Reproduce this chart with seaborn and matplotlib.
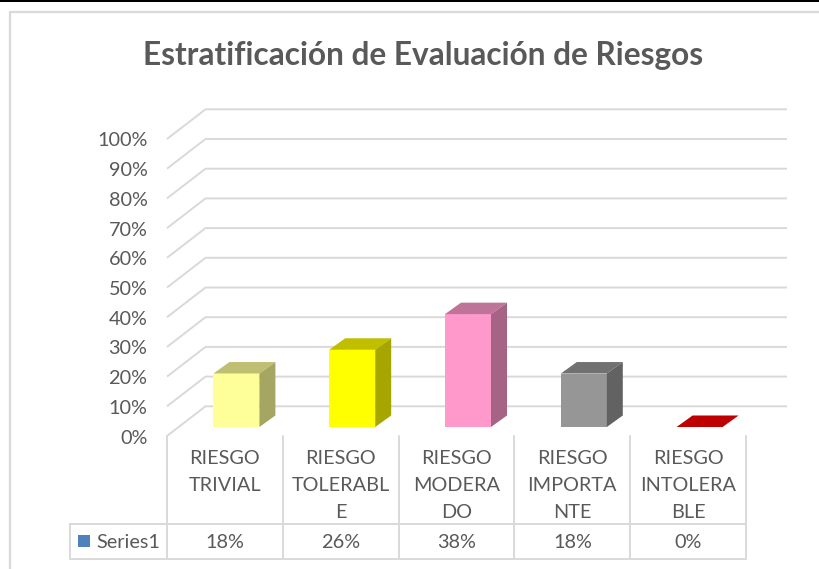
import matplotlib
matplotlib.use("Agg")
import matplotlib.pyplot as plt
from matplotlib.colors import to_rgb
from matplotlib.patches import Polygon
import pandas as pd
import seaborn as sns

# Data
categories = ["RIESGO\nTRIVIAL", "RIESGO\nTOLERABL\nE", "RIESGO\nMODERA\nDO", "RIESGO\nIMPORTA\nNTE", "RIESGO\nINTOLERA\nBLE"]
values = [18, 26, 38, 18, 0]
value_labels = ["18%", "26%", "38%", "18%", "0%"]
colors = ["#FFFF99", "#FFFF00", "#FF99CC", "#969696", "#FF0000"]
y_ticks = [0, 10, 20, 30, 40, 50, 60, 70, 80, 90, 100]
series_name = "Series1"
title = "Estratificación de Evaluación de Riesgos"

sns.set_theme(style="white")
plt.rcParams["font.family"] = ["Lato", "DejaVu Sans"]

W, H = 820, 569
CELL = 115.8     # pixels per category
UNIT = 2.97      # pixels per percent
X0 = 178.5       # left edge of first category, bar plane
Y0 = 427         # baseline of the bars
GREY = "#595959"
LINE = "#D9D9D9"
FS = 14.3

# pixel -> data helpers for the frame and the table
def px(x):
    return (x - X0) / CELL - 0.5

def py(y):
    return (Y0 - y) / UNIT

fig = plt.figure(figsize=(W / 100, H / 100), dpi=100)
ax = fig.add_axes([0, 0, 1, 1])

df = pd.DataFrame({"cat": categories, "val": values})
sns.barplot(data=df, x="cat", y="val", hue="cat", palette=colors, legend=False,
            width=46 / CELL, saturation=1, ax=ax, zorder=1, linewidth=0)
ax.set_xlim(px(0), px(W))
ax.set_ylim(py(H), py(0))
ax.axis("off")

# fake 3d walls
wall_dx, wall_dy = 38.5 / CELL, 10
front_x, front_dy = px(167), (Y0 - 436) / UNIT
for v in y_ticks:
    ax.plot([front_x, front_x + wall_dx, px(787)],
            [v + front_dy, v + front_dy + wall_dy, v + front_dy + wall_dy],
            color=LINE, lw=1.4, zorder=0.5, solid_capstyle="butt")
    ax.text(px(147.5), v + front_dy - 2 / UNIT, f"{v}%", color=GREY, fontsize=FS, ha="right", va="center")

# fake 3d on the bars
bar_dx, bar_dy = 16 / CELL, 11.5 / UNIT
half = 23 / CELL
for i, v in enumerate(values):
    rgb = to_rgb(colors[i])
    top = tuple(c * 0.75 for c in rgb)
    side = tuple(c * 0.65 for c in rgb)
    ax.add_patch(Polygon([(i - half, v), (i + half, v), (i + half + bar_dx, v + bar_dy), (i - half + bar_dx, v + bar_dy)],
                         facecolor=top, edgecolor="none", zorder=1))
    if v > 0:
        ax.add_patch(Polygon([(i + half, 0), (i + half + bar_dx, bar_dy), (i + half + bar_dx, v + bar_dy), (i + half, v)],
                             facecolor=side, edgecolor="none", zorder=1))

# data table under the chart
edges = [px(167 + CELL * k) for k in range(6)]
for x in edges:
    ax.plot([x, x], [py(436), py(559)], color=LINE, lw=1.4, zorder=0.5)
for y in [py(524), py(559)]:
    ax.plot([px(70), edges[-1]], [y, y], color=LINE, lw=1.4, zorder=0.5)
ax.plot([px(70), px(70)], [py(524), py(559)], color=LINE, lw=1.4, zorder=0.5)

for i, cat in enumerate(categories):
    mid = (edges[i] + edges[i + 1]) / 2
    for k, part in enumerate(cat.split("\n")):
        ax.text(mid, py(458.5 + 27 * k), part, color=GREY, fontsize=FS, ha="center", va="center")
    ax.text(mid, py(542.5), value_labels[i], color=GREY, fontsize=FS, ha="center", va="center")

ax.add_patch(Polygon([(px(78), py(535)), (px(90), py(535)), (px(90), py(547)), (px(78), py(547))],
                     facecolor="#4F81BD", edgecolor="none"))
ax.text(px(96), py(542.5), series_name, color=GREY, fontsize=FS, ha="left", va="center")

# outer frame and the dark strip at the very top
ax.plot([px(10), px(10), px(W)], [py(H), py(12), py(12)], color=LINE, lw=1.6, zorder=0.5)
ax.add_patch(Polygon([(px(0), py(0)), (px(W), py(0)), (px(W), py(2)), (px(0), py(2))], facecolor="black", edgecolor="none"))

ax.text(px(423.5), py(55), title, color=GREY, fontsize=22.8, fontweight="bold", ha="center", va="center")

fig.savefig("out.png", dpi=100)
